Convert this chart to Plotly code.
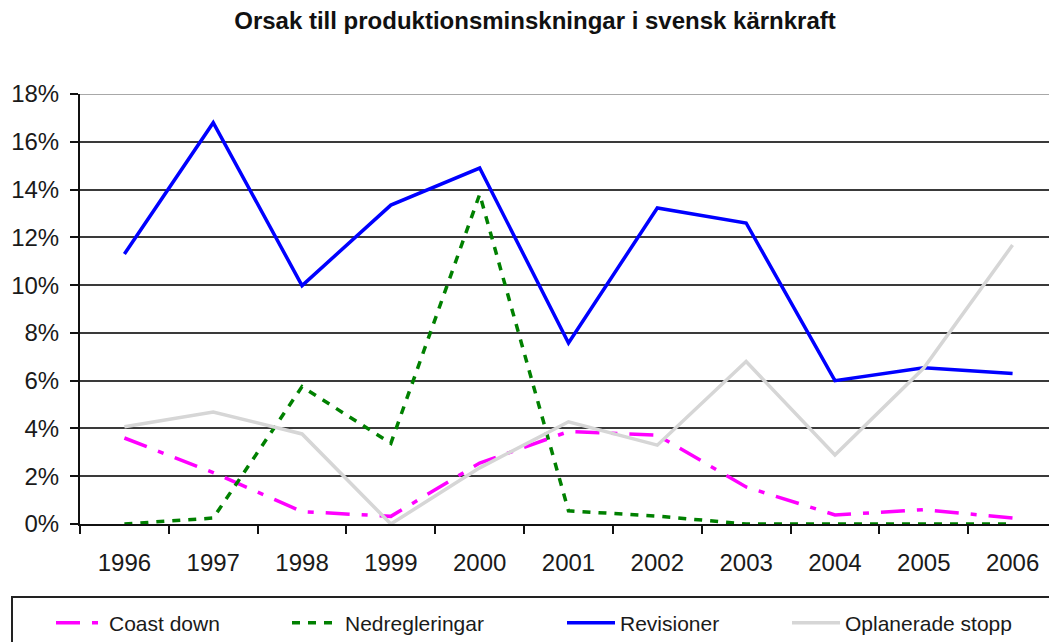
import plotly.graph_objects as go

years = ["1996", "1997", "1998", "1999", "2000", "2001", "2002", "2003", "2004", "2005", "2006"]
coast_down = [0.036, 0.0215, 0.0052, 0.0032, 0.0255, 0.0387, 0.0372, 0.0155, 0.0038, 0.0060, 0.0025]
nedregleringar = [0.0, 0.0025, 0.0575, 0.0338, 0.138, 0.0055, 0.0033, 0.0, 0.0, 0.0, 0.0]
revisioner = [0.113, 0.168, 0.0998, 0.1335, 0.149, 0.0758, 0.1323, 0.126, 0.060, 0.0654, 0.063]
oplanerade = [0.0407, 0.0469, 0.0377, 0.0, 0.0235, 0.0428, 0.0330, 0.068, 0.0289, 0.0653, 0.1168]

series = [
    ("Coast down", coast_down, "#FF00FF", "24px,12px,6px,12px", 3.5, "legend2"),
    ("Nedregleringar", nedregleringar, "#008000", "8px,8px", 3.5, "legend3"),
    ("Revisioner", revisioner, "#0000FF", "solid", 3.5, "legend4"),
    ("Oplanerade stopp", oplanerade, "#D6D6D6", "solid", 3.5, "legend5"),
]

FONT = "Liberation Sans, Arial, sans-serif"
W, H = 1049, 642

fig = go.Figure()
for name, vals, color, dash, width, lg in series:
    fig.add_trace(go.Scatter(
        x=years, y=vals, name=name, mode="lines",
        line=dict(color=color, dash=dash, width=width),
        legend=lg,
    ))

legend_x = [51, 287, 562, 787]
legend_common = dict(
    orientation="h", xref="container", yref="container",
    yanchor="middle", y=1 - 623 / H, xanchor="left",
    font=dict(family=FONT, size=21, color="#1a1a1a"),
    bgcolor="rgba(0,0,0,0)", borderwidth=0, itemwidth=48,
    visible=True,
)

fig.update_layout(
    width=W, height=H,
    paper_bgcolor="white", plot_bgcolor="white",
    margin=dict(l=80, r=0, t=94, b=118),
    title=dict(
        text="<b>Orsak till produktionsminskningar i svensk kärnkraft</b>",
        x=535 / W, xanchor="center", xref="container",
        y=1 - 21 / H, yanchor="middle", yref="container",
        font=dict(family=FONT, size=24, color="#111111"),
    ),
    showlegend=True,
    legend2=dict(x=legend_x[0] / W, **legend_common),
    legend3=dict(x=legend_x[1] / W, **legend_common),
    legend4=dict(x=legend_x[2] / W, **legend_common),
    legend5=dict(x=legend_x[3] / W, **legend_common),
    shapes=[
        dict(type="rect", xref="paper", yref="paper",
             x0=-68 / 969, x1=1.05, y0=-(597 - 524) / 430, y1=-(660 - 524) / 430,
             line=dict(color="#222222", width=2), fillcolor="rgba(0,0,0,0)", layer="below"),
        dict(type="line", xref="paper", yref="y", x0=0, x1=1, y0=0.18, y1=0.18,
             line=dict(color="#A8A8A8", width=2), layer="below"),
    ],
)

fig.update_xaxes(
    type="category", range=[-0.5, 10.41],
    showline=True, linecolor="#111111", linewidth=2,
    ticks="outside", tickson="boundaries", ticklen=8, tickwidth=2, tickcolor="#111111",
    showgrid=False, ticklabelstandoff=16,
    tickfont=dict(family=FONT, size=24, color="#1a1a1a"),
)
fig.update_yaxes(
    range=[0, 0.18], dtick=0.02, tickformat=".0%",
    showline=True, linecolor="#111111", linewidth=2,
    ticks="outside", ticklen=8, tickwidth=2, tickcolor="#111111",
    showgrid=True, gridcolor="#3a3a3a", gridwidth=1.6,
    zeroline=False, ticklabelstandoff=6,
    tickfont=dict(family=FONT, size=24, color="#1a1a1a"),
)

fig.write_html(
    "out.html",
    config={"displayModeBar": False},
    post_script="document.body.style.margin='0';document.body.style.overflow='hidden';",
)
